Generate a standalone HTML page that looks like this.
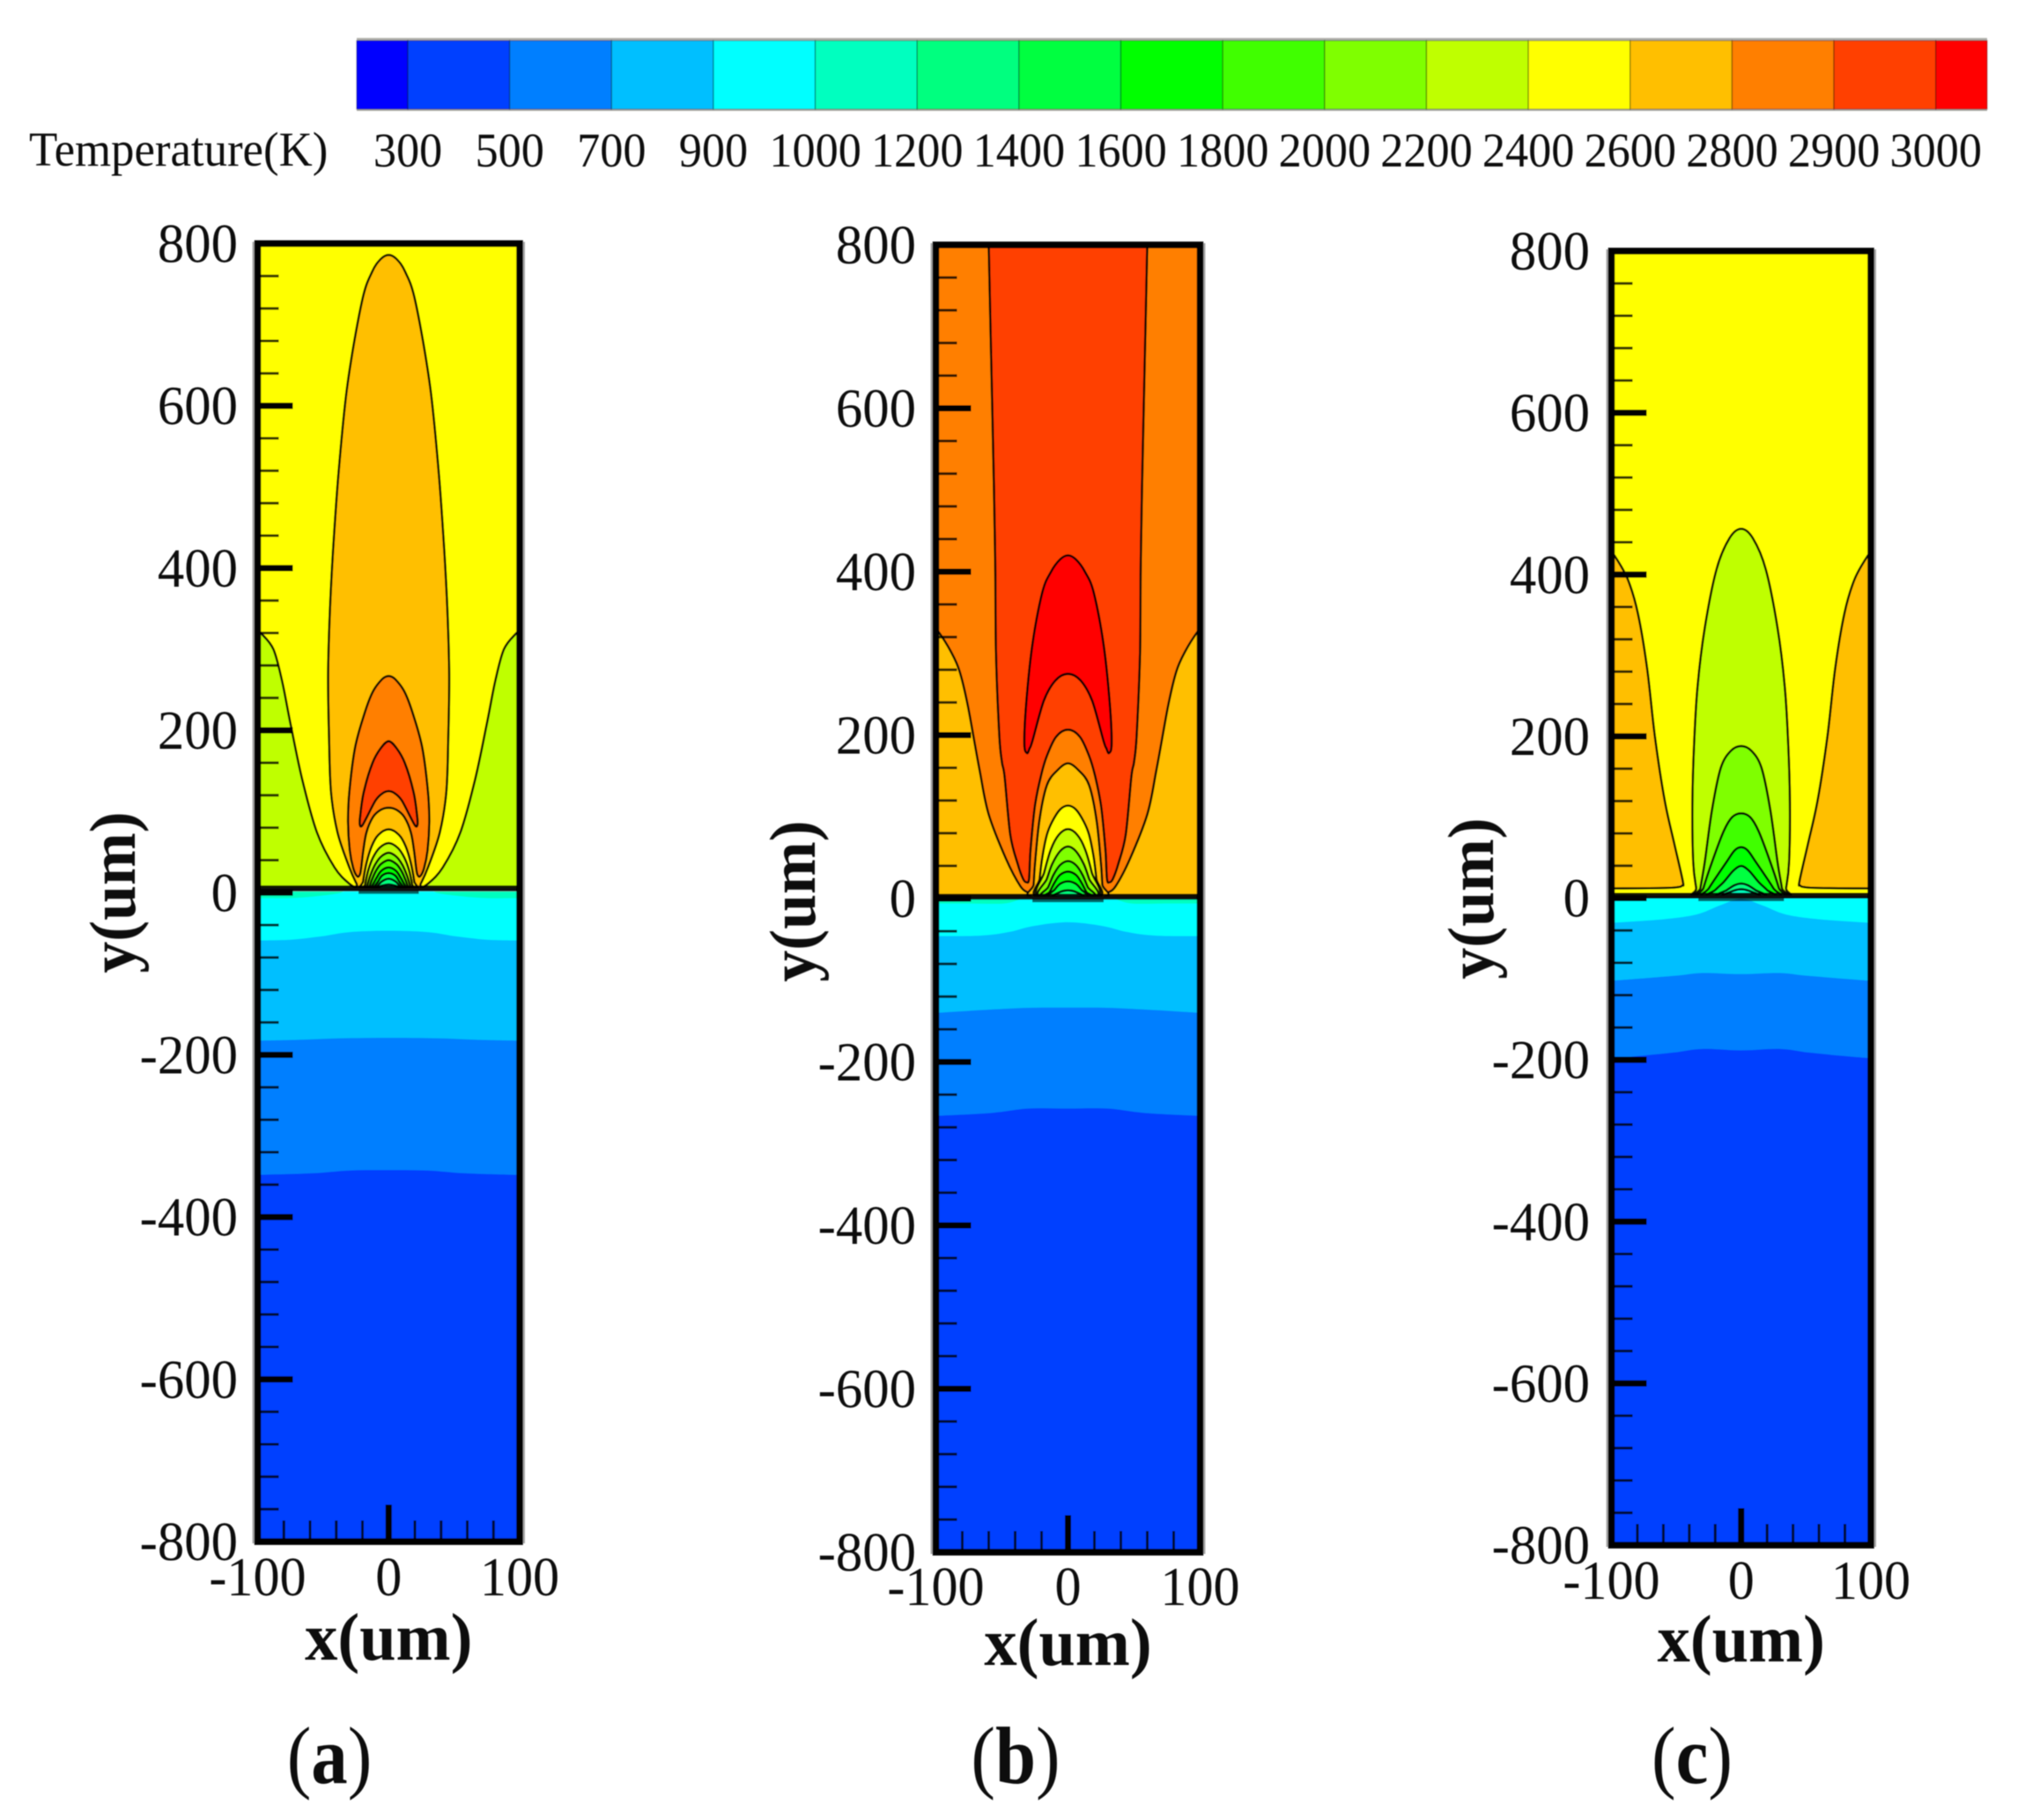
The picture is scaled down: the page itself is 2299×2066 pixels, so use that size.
<!DOCTYPE html>
<html lang="en">
<head>
<meta charset="utf-8">
<title>Temperature contours</title>
<style>
html,body{margin:0;padding:0;background:#fff;width:2299px;height:2066px;overflow:hidden}
svg{display:block}
text{font-family:"Liberation Serif",serif;fill:#111}
</style>
</head>
<body>
<svg id="figure" xmlns="http://www.w3.org/2000/svg" width="2299" height="2066" viewBox="0 0 2299 2066">
<defs><filter id="soft" x="-2%" y="-2%" width="104%" height="104%"><feGaussianBlur stdDeviation="0.6"/></filter></defs>
<rect width="2299" height="2066" fill="#fff"/>
<g id="root" filter="url(#soft)"></g>
</svg>
<script>
// ---------- colour legend ----------
const colorbarColors = ['#0000ff','#0040ff','#007fff','#00bfff','#00ffff','#00ffbf','#00ff7f','#00ff3f','#00ff00','#3fff00','#7fff00','#bfff00','#ffff00','#ffbf00','#ff7f00','#ff3f00','#ff0000'];
const colorbarLabels = ['300','500','700','900','1000','1200','1400','1600','1800','2000','2200','2400','2600','2800','2900','3000'];

// ---------- axis ticks ----------
const yTickLabels = [800,600,400,200,0,-200,-400,-600,-800];
const yMinorTicks = [760,720,680,640,560,520,480,440,360,320,280,240,160,120,80,40,-40,-80,-120,-160,-240,-280,-320,-360,-440,-480,-520,-560,-640,-680,-720,-760];
const xTickLabels = [-100,0,100];
const xMinorTicks = [-80,-60,-40,-20,20,40,60,80];

// ---------- panel (a) contours: half curves [x um, y um] ----------
const panelASide = [[100,322],[97,319],[88,300],[81.5,262],[74.8,207],[65.9,139],[54.7,74],[41.3,31],[30,11],[22,4],[20,2]];
const panelABump = [[0,786],[6,781],[12.7,765],[20.5,728],[31.7,623],[38.4,514],[42.5,420],[45,341],[46.2,269],[45.5,190],[44,124],[39,74],[30,31],[24.5,11],[21,2]];
const panelAOrange = [[0,267],[5,263],[12.3,247],[19,218],[25.7,178],[30,124],[31,88],[29.7,52],[27,30],[24,20],[22,22],[21,30],[19.5,50],[17,74],[12,93],[6,102],[0,104.6]];
const panelARed = [[0,186.6],[6,178],[12.3,160],[19,124],[21.7,95],[22,84],[20.5,82],[17,92],[10,113.6],[5,122],[0,125]];
const panelADomeYellow = [[0,78],[8,71],[13,57],[17,36],[19.5,14],[20,2]];
const panelADome2200 = [[0,61],[7,55],[12,43],[15.5,28],[18,10],[19,2]];
const panelADome2000 = [[0,49],[6,44],[10.5,34],[14,21],[16.5,8],[18,2]];
const panelADome1800 = [[0,40],[6,35],[10,26],[13,15],[15,6],[17,2]];
const panelADome1600 = [[0,31],[5.5,27],[9,19],[12,10],[14,4],[15,2]];
const panelADome1400 = [[0,24],[5,21],[8,14],[11,7],[13,2]];
const panelADome1200 = [[0,17],[5,14],[8,9],[11,3],[12,2]];
const panelADome1000 = [[0,10],[5,8.5],[9,5],[11,2]];
const panelATeal = [[0,4],[30,3],[40,-1.5],[70,-6.5],[100,-7]];
const panelACyan = [[0,-47],[30,-48.7],[52,-54],[75,-58],[100,-59]];
const panelASky = [[0,-179],[37,-179.5],[70,-181.5],[100,-182.5]];
const panelAMid = [[0,-342],[30,-342.5],[59,-346],[100,-348]];

// ---------- panel (b) contours ----------
const panelBSide = [[100,328],[97.8,326],[88.9,303],[82,278],[75.7,235],[66.9,157],[60,103],[47,49],[36,15],[30,7],[26,2]];
const panelBColumn = [[60,830],[60,800],[58,650],[56,500],[55,400],[54.5,300],[52,200],[50,167],[48,149.5],[43.7,78],[38,42],[34,24],[31.5,20],[29.5,24],[28.3,60],[25,113.7],[20.5,150],[16,174.5],[9,198],[0,206.7]];
const panelBRed = [[0,420],[6,415],[12.8,400],[19.4,375],[27,310],[31.6,239],[33,189],[31,178],[29,184],[27,192.5],[18.3,242],[9.5,267],[0,275]];
const panelBDome2800 = [[0,165.5],[8,157],[16,138.7],[21.6,96],[25,42],[26,17],[27,2]];
const panelBDomeYellow = [[0,113.7],[6,109],[12,94],[16,78],[19.5,50],[21.5,24],[23,2]];
const panelBDome2200 = [[0,85],[7,78],[13,60],[18,32],[22,2]];
const panelBDome2000 = [[0,63.7],[6,58],[12,42],[16,24],[21,2]];
const panelBDome1800 = [[0,45.8],[6,41],[11,29],[15,14],[19,2]];
const panelBDome1600 = [[0,33],[6,29],[10,20],[14,8],[17,2]];
const panelBDome1400 = [[0,21],[6,18],[10,11],[14,2]];
const panelBDome1200 = [[0,10],[6,8],[11,2]];
const panelBTeal = [[0,3],[30,1],[48,-6],[75,-6],[100,-6]];
const panelBCyan = [[0,-29],[26,-33.5],[43.5,-40.5],[65.6,-45.3],[100,-46]];
const panelBSky = [[0,-133.5],[30,-133.7],[60,-136],[100,-140]];
const panelBMid = [[0,-257],[30,-257],[59,-262.5],[100,-266]];

// ---------- panel (c) contours ----------
const panelCSide = [[100,425],[97.5,423],[87.4,394],[79.6,352],[72.5,284],[66.5,200],[59,121],[51.5,67],[45,21],[45.5,15.5],[49,13.5],[60,12.5],[100,12],[112,12]];
const panelCDome2400 = [[0,456.6],[9,445],[19,406.5],[28,334.5],[33.6,262],[36.3,190],[37.6,117.6],[37,45],[34.7,12.6],[33,2]];
const panelCDome2200 = [[0,188],[8,182],[15.7,161],[22.4,110],[28,45],[31.4,12.6],[32,2]];
const panelCDome2000 = [[0,104.8],[7,100],[13.4,83],[22.4,45],[29,12.6],[30,2]];
const panelCDome1800 = [[0,63],[5,59],[11.2,45],[24.7,12.6],[27,2]];
const panelCDome1600 = [[0,39.8],[6,34],[13.4,20],[20,10],[24,2]];
const panelCDome1400 = [[0,18],[5,16],[11,10],[18,2]];
const panelCDome1200 = [[0,11],[6,9],[14,2]];
const panelCTeal = [[0,3],[50,3],[100,3]];
const panelCCyan = [[0,-1],[16.4,-9],[34,-20],[59,-26],[100,-30.6]];
const panelCSky = [[0,-94],[30,-92.6],[52,-96.2],[100,-102.3]];
const panelCMid = [[0,-188.3],[30,-186.5],[52,-190.9],[74.6,-194.5],[100,-198]];

// ---------- panel assembly ----------
const panels = [
 {id:'a', frame:{left:292.5,right:590,top:276.5,bottom:1750}, baseLine:5.5, lowerTop:1.5, baseMark:23, bg:12,
  yLabelRight:270, xLabelY:1811, xTitleY:1884, yTitleX:153, yTitleC:1013, caption:'a', captionX:374, captionY:2024,
  sides:[{level:11,points:panelASide}],
  closed:[{level:13,points:panelABump},{level:14,points:panelAOrange},{level:15,points:panelARed},{level:12,points:panelADomeYellow},{level:11,points:panelADome2200},{level:10,points:panelADome2000},{level:9,points:panelADome1800},{level:8,points:panelADome1600},{level:7,points:panelADome1400},{level:6,points:panelADome1200},{level:5,points:panelADome1000}],
  bands:[{level:4,points:panelATeal},{level:3,points:panelACyan},{level:2,points:panelASky},{level:1,points:panelAMid}]},
 {id:'b', frame:{left:1062.5,right:1362.5,top:278,bottom:1762}, baseLine:2.5, lowerTop:-1, baseMark:27, bg:14,
  yLabelRight:1040, xLabelY:1822, xTitleY:1890, yTitleX:925, yTitleC:1023, caption:'b', captionX:1153, captionY:2024,
  sides:[{level:13,points:panelBSide}],
  closed:[{level:15,points:panelBColumn},{level:16,points:panelBRed},{level:13,points:panelBDome2800},{level:12,points:panelBDomeYellow},{level:11,points:panelBDome2200},{level:10,points:panelBDome2000},{level:9,points:panelBDome1800},{level:8,points:panelBDome1600},{level:7,points:panelBDome1400},{level:6,points:panelBDome1200}],
  bands:[{level:4,points:panelBTeal},{level:3,points:panelBCyan},{level:2,points:panelBSky},{level:1,points:panelBMid}]},
 {id:'c', frame:{left:1829.5,right:2124,top:285,bottom:1754}, baseLine:3.3, lowerTop:0, baseMark:33, bg:12,
  yLabelRight:1805, xLabelY:1815, xTitleY:1886, yTitleX:1695, yTitleC:1020, caption:'c', captionX:1921, captionY:2024,
  sides:[{level:13,points:panelCSide}],
  closed:[{level:11,points:panelCDome2400},{level:10,points:panelCDome2200},{level:9,points:panelCDome2000},{level:8,points:panelCDome1800},{level:7,points:panelCDome1600},{level:6,points:panelCDome1400},{level:5,points:panelCDome1200}],
  bands:[{level:4,points:panelCTeal},{level:3,points:panelCCyan},{level:2,points:panelCSky},{level:1,points:panelCMid}]}
];

const NS = 'http://www.w3.org/2000/svg';
const root = document.getElementById('root');
const defs = document.querySelector('defs');

function make(tag, attrs, parent){
  const el = document.createElementNS(NS, tag);
  for (const k in attrs) el.setAttribute(k, attrs[k]);
  (parent || root).appendChild(el);
  return el;
}
function catmull(pts, closed){
  const n = pts.length;
  let d = '';
  const at = i => closed ? pts[(i+n)%n] : pts[Math.max(0,Math.min(n-1,i))];
  const segs = closed ? n : n-1;
  for (let i=0;i<segs;i++){
    const p0=at(i-1),p1=at(i),p2=at(i+1),p3=at(i+2);
    const c1=[p1[0]+(p2[0]-p0[0])/6,p1[1]+(p2[1]-p0[1])/6];
    const c2=[p2[0]-(p3[0]-p1[0])/6,p2[1]-(p3[1]-p1[1])/6];
    d += 'C'+c1[0].toFixed(1)+' '+c1[1].toFixed(1)+' '+c2[0].toFixed(1)+' '+c2[1].toFixed(1)+' '+p2[0].toFixed(1)+' '+p2[1].toFixed(1);
  }
  return 'M'+pts[0][0].toFixed(1)+' '+pts[0][1].toFixed(1)+d;
}
function label(str, x, y, size, sx, anchor, weight, parent){
  const t = make('text', {transform:'translate('+x+' '+y+') scale('+sx+' 1)', 'font-size':size, 'text-anchor':anchor, 'font-weight':weight||'normal'}, parent);
  t.textContent = str;
  return t;
}

// ---------- colour bar ----------
const barGroup = make('g', {});


function barX(i){ return Math.max(405, Math.min(2256, 463 + 115.65*(i-1))); }
const barHalo = make('rect', {x:405, y:43, width:1851, height:83, fill:'#b4b4b0'}, barGroup);


colorbarColors.forEach(function(c, i){
  const x0 = barX(i), x1 = barX(i+1);
  const box = make('rect', {x:x0, y:46, width:x1-x0, height:78, fill:c, stroke:'rgba(0,0,0,.28)', 'stroke-width':1.5}, barGroup);
  
  
});
colorbarLabels.forEach(function(s, i){
  const t = label(s, barX(i+1), 189, 55, 0.95, 'middle', 'normal', barGroup);
  
  
});
const barTitle = label('Temperature(K)', 33, 188, 55, 0.96, 'start', 'normal', barGroup);



// ---------- panels ----------
panels.forEach(function(p){
  const f = p.frame;
  const sx = v => f.left + (v+100)/200*(f.right-f.left);
  const sy = v => f.bottom - (v+800)/1600*(f.bottom-f.top);
  const cx = v => [sx(v[0]), sy(v[1])];

  const g = make('g', {});
  
  

  // clip areas
  const clipU = make('clipPath', {id:'upper-'+p.id}, defs);
  make('rect', {x:f.left, y:f.top, width:f.right-f.left, height:sy(p.baseLine)-f.top}, clipU);
  const clipL = make('clipPath', {id:'lower-'+p.id}, defs);
  make('rect', {x:f.left, y:sy(p.lowerTop), width:f.right-f.left, height:f.bottom-sy(p.lowerTop)}, clipL);

  // halo behind the frame
  const halo = make('rect', {x:f.left-6, y:f.top-2, width:f.right-f.left+12, height:f.bottom-f.top+4, fill:'#a8a8a8'}, g);
  
  

  // upper domain
  const upper = make('g', {'clip-path':'url(#upper-'+p.id+')'}, g);
  
  
  const bgRect = make('rect', {x:f.left, y:f.top, width:f.right-f.left, height:f.bottom-f.top, fill:colorbarColors[p.bg]}, upper);
  
  

  p.sides.forEach(function(s){
    [1,-1].forEach(function(sign){
      const pts = s.points.map(q => cx([sign*q[0], q[1]]));
      const last = pts[pts.length-1], first = pts[0];
      const far = sign>0 ? f.right+20 : f.left-20;
      const d = catmull(pts,false)+'L'+far+' '+last[1]+'L'+far+' '+first[1]+'Z';
      const path = make('path', {d:d, fill:colorbarColors[s.level], stroke:'#000', 'stroke-width':2.6, 'stroke-opacity':.9}, upper);
      
      
    });
  });
  p.closed.forEach(function(s){
    const right = s.points;
    const left = right.slice().reverse().filter(q => q[0] !== 0).map(q => [-q[0], q[1]]);
    const pts = right.concat(left).map(cx);
    const path = make('path', {d:catmull(pts,true)+'Z', fill:colorbarColors[s.level], stroke:'#000', 'stroke-width':2.6, 'stroke-opacity':.9}, upper);
    
    
  });

  // lower domain
  const lower = make('g', {'clip-path':'url(#lower-'+p.id+')'}, g);
  
  
  const lowBase = make('rect', {x:f.left, y:sy(p.lowerTop), width:f.right-f.left, height:f.bottom-sy(p.lowerTop), fill:colorbarColors[5]}, lower);
  
  
  p.bands.forEach(function(s){
    const right = s.points;
    const left = right.slice().reverse().filter(q => q[0] !== 0).map(q => [-q[0], q[1]]);
    const pts = left.concat(right).map(cx);
    const d = catmull(pts,false)+'L'+sx(100)+' '+(f.bottom+5)+'L'+sx(-100)+' '+(f.bottom+5)+'Z';
    const band = make('path', {d:d, fill:colorbarColors[s.level]}, lower);
    
    
  });

  // interface line
  const iface = make('rect', {x:f.left, y:sy(p.baseLine)-3, width:f.right-f.left, height:6.5, fill:'#000', opacity:.92}, g);
  
  
  const mark = make('rect', {x:sx(-p.baseMark), y:sy(p.baseLine)+3, width:sx(p.baseMark)-sx(-p.baseMark), height:3.5, fill:'#000', opacity:.6}, g);
  
  

  // ticks
  yMinorTicks.forEach(function(v){
    const t = make('rect', {x:f.left, y:sy(v)-1.5, width:24, height:3, fill:'#000', opacity:.8}, g);
    
    
  });
  yTickLabels.forEach(function(v){
    if (v !== 800 && v !== -800){
      const t = make('rect', {x:f.left, y:sy(v)-3.5, width:40, height:7, fill:'#000'}, g);
      
      
    }
    const l = label(String(v), p.yLabelRight, sy(v)+21, 62, 0.98, 'end', 'normal', g);
    
    
  });
  xMinorTicks.forEach(function(v){
    const t = make('rect', {x:sx(v)-1.5, y:f.bottom-24, width:3, height:24, fill:'#000', opacity:.8}, g);
    
    
  });
  xTickLabels.forEach(function(v){
    if (v === 0){
      const t = make('rect', {x:sx(0)-3.5, y:f.bottom-42, width:7, height:42, fill:'#000'}, g);
      
      
    }
    const l = label(String(v), sx(v), p.xLabelY, 62, 0.97, 'middle', 'normal', g);
    
    
  });

  // frame
  const frame = make('rect', {x:f.left, y:f.top, width:f.right-f.left, height:f.bottom-f.top, fill:'none', stroke:'#000', 'stroke-width':7.5}, g);
  
  

  // titles
  const xTitle = label('x(um)', sx(0), p.xTitleY, 76, 0.98, 'middle', 'bold', g);
  
  
  const yTitle = make('text', {transform:'translate('+p.yTitleX+' '+p.yTitleC+') rotate(-90) scale(0.97 1)', 'font-size':74, 'font-weight':'bold', 'text-anchor':'middle'}, g);
  yTitle.textContent = 'y(um)';
  
  

  // caption
  const cap = make('text', {transform:'translate('+p.captionX+' '+p.captionY+') scale(0.9 1)', 'font-size':92, 'text-anchor':'middle'}, g);
  
  
  const open = make('tspan', {}, cap); open.textContent = '(';
  const mid = make('tspan', {'font-weight':'bold'}, cap); mid.textContent = p.caption;
  const close = make('tspan', {}, cap); close.textContent = ')';
});
</script>
</body>
</html>
